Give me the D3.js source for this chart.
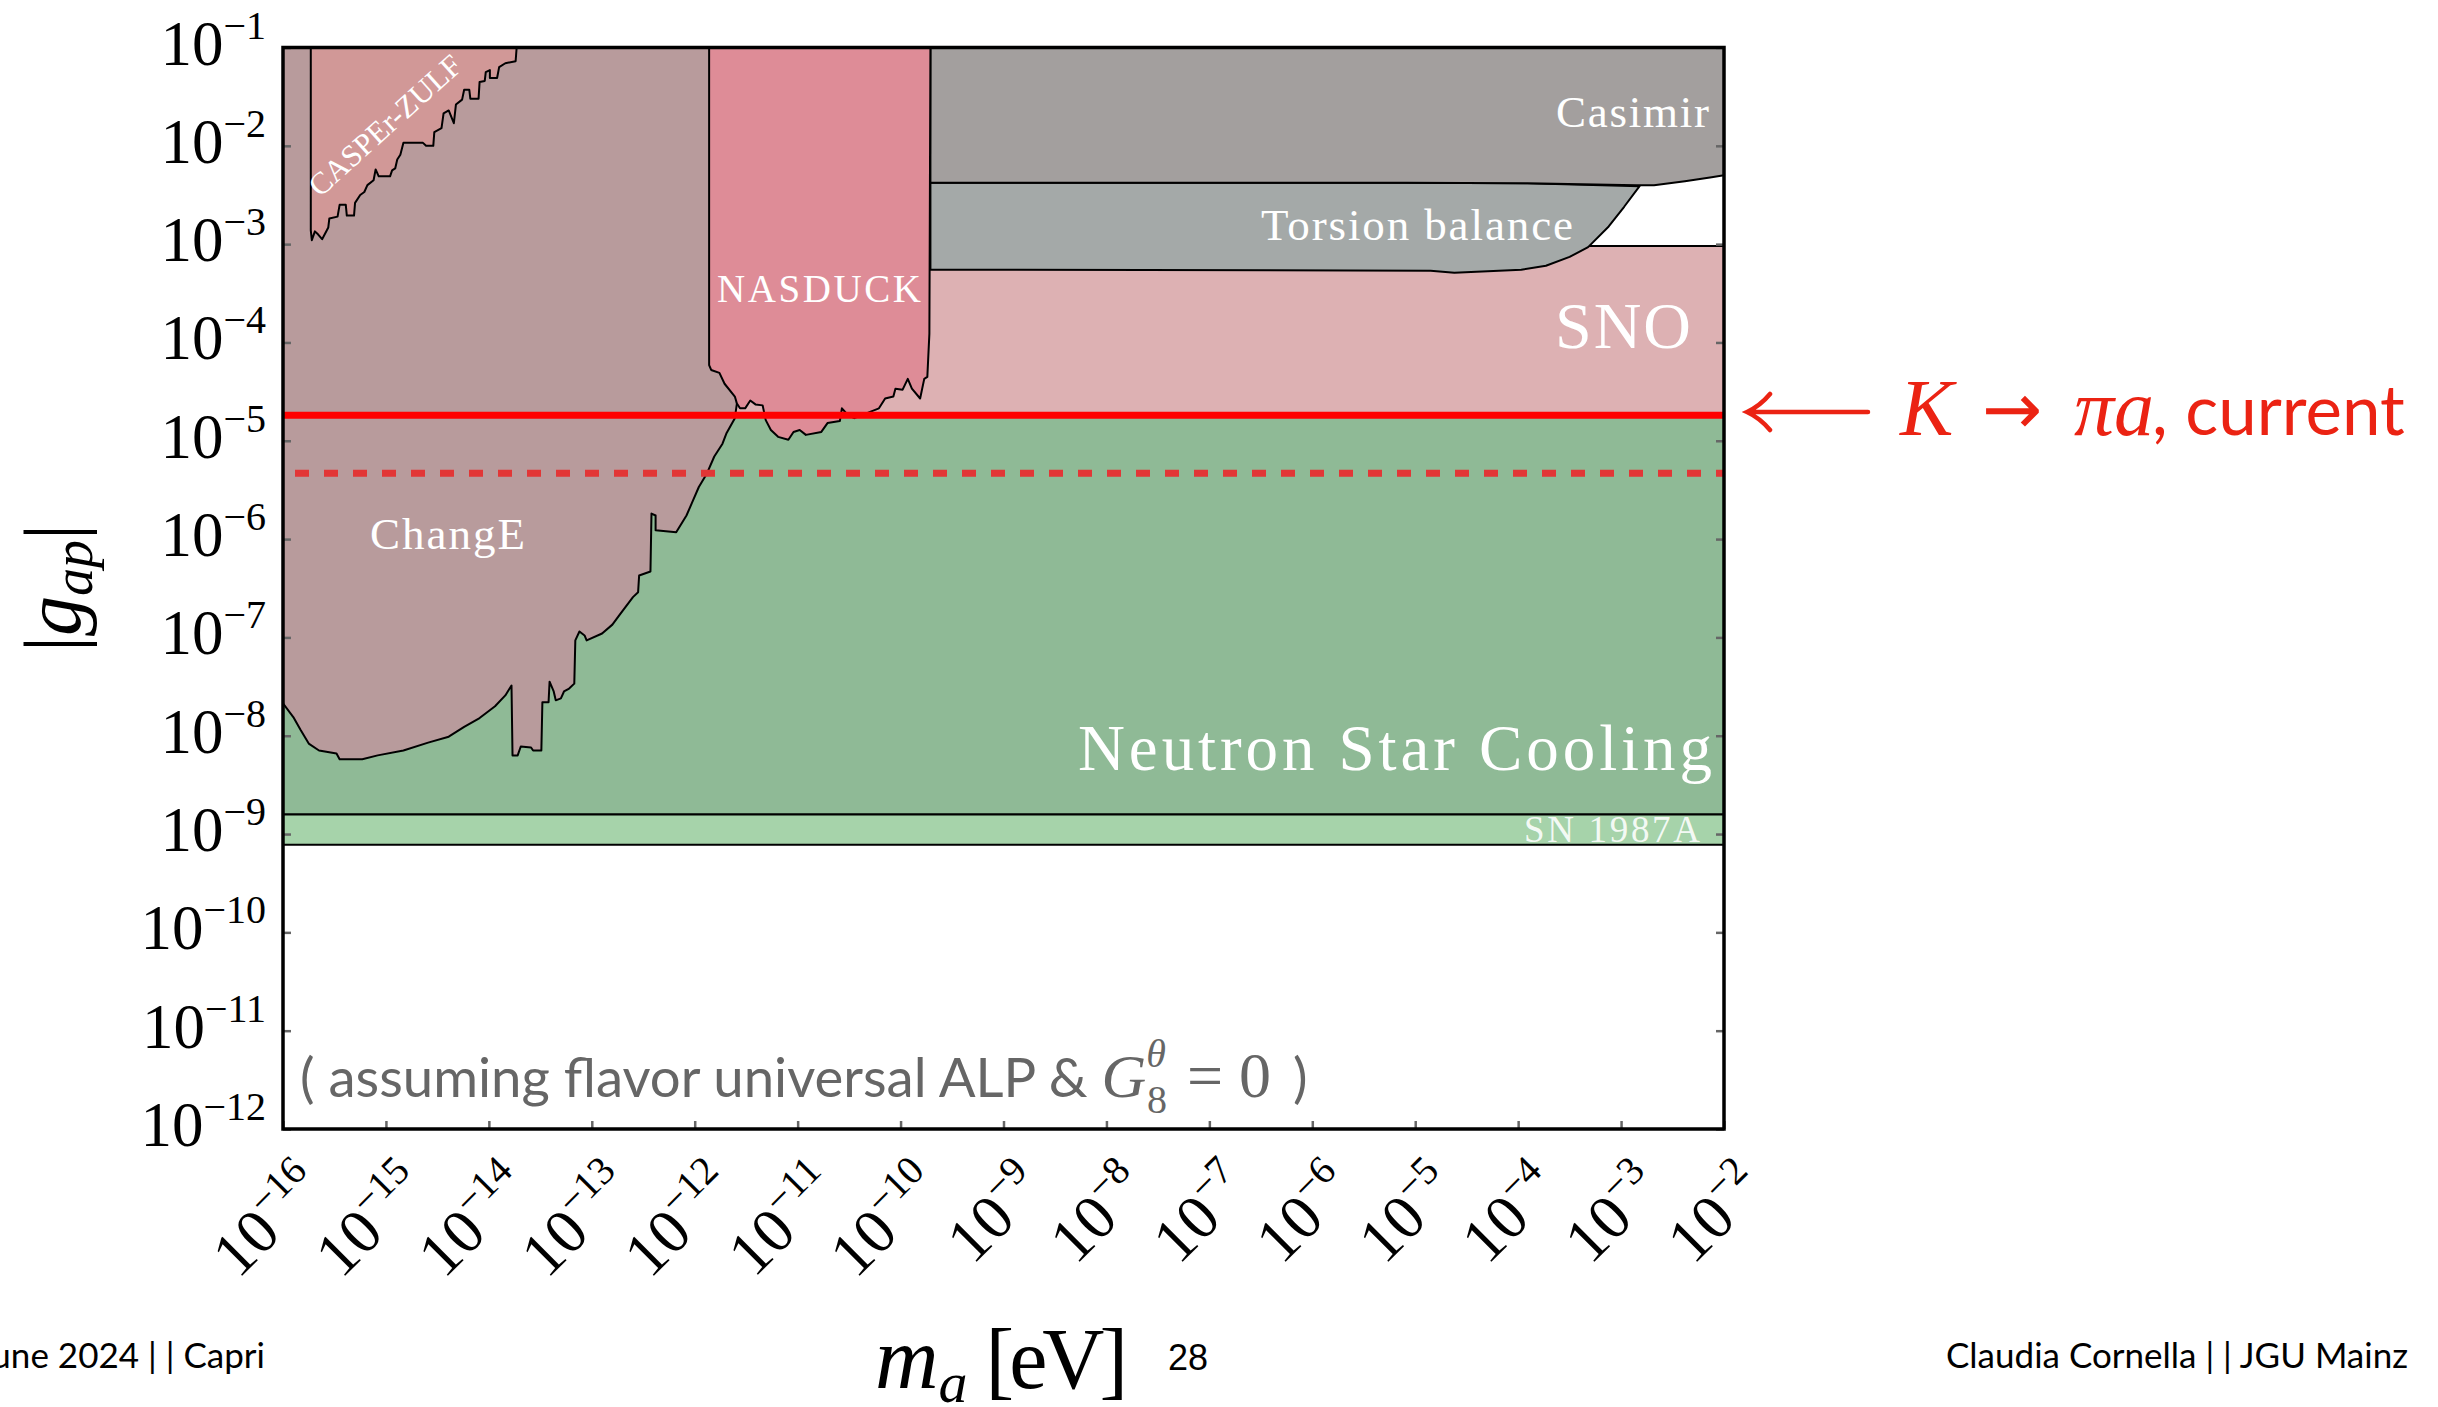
<!DOCTYPE html>
<html>
<head>
<meta charset="utf-8">
<script src="https://cdn.jsdelivr.net/npm/d3@7"></script>
<style>
  body { margin: 0; background: #fff; }
  svg { display: block; }
</style>
</head>
<body>
<script>
// tick exponents
const massExp = d3.range(-16, -1);   // m_a : 10^-16 .. 10^-2 eV
const coupExp = d3.range(-12, 0);    // |g_ap| : 10^-12 .. 10^-1

// excluded regions, points are [log10 m_a, log10 |g_ap|]
const neutronStar = [[-16, -4.74], [-2, -4.74], [-2, -8.80], [-16, -8.80]];
const sn1987a = [[-16, -8.80], [-2, -8.80], [-2, -9.11], [-16, -9.11]];
const sno = [[-11.86, -3.02], [-2, -3.02], [-2, -4.74], [-11.86, -4.74]];
const torsion = [[-9.71, -2.375], [-5.09, -2.375], [-3.91, -2.38], [-2.82, -2.41],
  [-2.97, -2.62], [-3.12, -2.82], [-3.32, -3.03], [-3.50, -3.13], [-3.73, -3.22],
  [-3.97, -3.26], [-4.62, -3.29], [-4.85, -3.27], [-9.71, -3.26]];
const casimir = [[-9.71, -1], [-2, -1], [-2, -2.30], [-2.12, -2.32], [-2.38, -2.36],
  [-2.68, -2.40], [-2.85, -2.40], [-3.91, -2.38], [-5.09, -2.375], [-9.71, -2.375]];
const changE = [[-16, -1], [-16, -7.67], [-15.90, -7.81], [-15.83, -7.94], [-15.75, -8.08],
  [-15.65, -8.15], [-15.48, -8.18], [-15.45, -8.24], [-15.23, -8.24], [-15.08, -8.20],
  [-14.83, -8.15], [-14.59, -8.07], [-14.39, -8.01], [-14.24, -7.91], [-14.09, -7.82],
  [-13.94, -7.70], [-13.84, -7.59], [-13.78, -7.49], [-13.77, -8.20], [-13.72, -8.20],
  [-13.69, -8.11], [-13.59, -8.12], [-13.57, -8.15], [-13.49, -8.15], [-13.48, -7.66],
  [-13.42, -7.66], [-13.41, -7.45], [-13.37, -7.55], [-13.35, -7.64], [-13.30, -7.62],
  [-13.27, -7.55], [-13.22, -7.52], [-13.17, -7.47], [-13.16, -7.03], [-13.12, -6.94],
  [-13.07, -6.98], [-13.05, -7.03], [-12.90, -6.96], [-12.80, -6.87], [-12.73, -6.77],
  [-12.60, -6.59], [-12.55, -6.54], [-12.54, -6.37], [-12.43, -6.33], [-12.42, -5.74],
  [-12.38, -5.76], [-12.38, -5.91], [-12.18, -5.93], [-12.08, -5.76], [-12.03, -5.64],
  [-11.96, -5.47], [-11.88, -5.33], [-11.81, -5.16], [-11.73, -5.03], [-11.69, -4.92],
  [-11.61, -4.77], [-11.59, -4.62], [-11.70, -1]];
const nasduck = [[-11.86, -1], [-11.86, -4.23], [-11.84, -4.28], [-11.76, -4.31],
  [-11.71, -4.42], [-11.61, -4.55], [-11.59, -4.62], [-11.56, -4.67], [-11.51, -4.67],
  [-11.46, -4.59], [-11.41, -4.63], [-11.34, -4.64], [-11.31, -4.79], [-11.26, -4.89],
  [-11.19, -4.96], [-11.09, -4.99], [-11.04, -4.91], [-10.98, -4.89], [-10.92, -4.94],
  [-10.77, -4.91], [-10.71, -4.82], [-10.59, -4.80], [-10.57, -4.67], [-10.51, -4.74],
  [-10.45, -4.77], [-10.21, -4.67], [-10.15, -4.57], [-10.07, -4.55], [-10.05, -4.47],
  [-9.98, -4.48], [-9.93, -4.37], [-9.89, -4.47], [-9.81, -4.57], [-9.77, -4.37],
  [-9.74, -4.35], [-9.72, -3.91], [-9.71, -1]];
const casper = [[-15.73, -1], [-15.73, -2.86], [-15.72, -2.96], [-15.69, -2.87],
  [-15.66, -2.90], [-15.62, -2.95], [-15.56, -2.83], [-15.55, -2.74], [-15.47, -2.72],
  [-15.45, -2.60], [-15.39, -2.60], [-15.38, -2.71], [-15.31, -2.71], [-15.30, -2.58],
  [-15.25, -2.50], [-15.21, -2.47], [-15.18, -2.40], [-15.12, -2.35], [-15.10, -2.24],
  [-15.07, -2.31], [-14.96, -2.31], [-14.94, -2.25], [-14.91, -2.23], [-14.89, -2.14],
  [-14.86, -2.09], [-14.83, -1.97], [-14.64, -1.97], [-14.61, -2.00], [-14.54, -2.00],
  [-14.53, -1.86], [-14.46, -1.82], [-14.44, -1.67], [-14.39, -1.64], [-14.34, -1.77],
  [-14.32, -1.58], [-14.26, -1.53], [-14.24, -1.43], [-14.19, -1.43], [-14.18, -1.52],
  [-14.10, -1.52], [-14.09, -1.35], [-14.04, -1.34], [-14.03, -1.25], [-13.99, -1.23],
  [-13.99, -1.31], [-13.92, -1.31], [-13.90, -1.20], [-13.84, -1.16], [-13.74, -1.14],
  [-13.73, -1]];

// K -> pi a bounds
const kpiCurrent = -4.74;
const kpiFuture = -5.33;

const regions = [
  { pts: neutronStar, fill: "#8fba96" },
  { pts: sn1987a, fill: "#a6d3aa" },
  { pts: sno, fill: "#ddb1b3" },
  { pts: torsion, fill: "#a4a9a8" },
  { pts: casimir, fill: "#a39f9e" },
  { pts: changE, fill: "#b89b9c" },
  { pts: nasduck, fill: "#de8c97" },
  { pts: casper, fill: "#d19897" }
];

const width = 2438, height = 1407;
const pLeft = 283, pRight = 1724, pTop = 47.5, pBottom = 1129;

const svg = d3.select("body").append("svg")
    .attr("width", width)
    .attr("height", height);

const x = d3.scaleLog().domain([1e-16, 1e-2]).range([pLeft, pRight]);
const y = d3.scaleLog().domain([1e-12, 1e-1]).range([pBottom, pTop]);
const line = d3.line().x(d => x(10 ** d[0])).y(d => y(10 ** d[1]));

svg.append("clipPath").attr("id", "plot")
  .append("rect")
    .attr("x", pLeft).attr("y", pTop)
    .attr("width", pRight - pLeft).attr("height", pBottom - pTop);

const area = svg.append("g").attr("clip-path", "url(#plot)");

area.selectAll("path.region")
    .data(regions)
    .enter()
    .append("path")
    .attr("class", "region")
    .attr("d", d => line(d.pts) + "Z")
    .attr("fill", d => d.fill)
    .attr("stroke", "black")
    .attr("stroke-width", 2)
    .attr("stroke-linejoin", "round");

// K -> pi a lines
area.append("line")
    .attr("x1", x(1e-16)).attr("x2", x(1e-2))
    .attr("y1", y(10 ** kpiCurrent)).attr("y2", y(10 ** kpiCurrent))
    .attr("stroke", "#ff0000")
    .attr("stroke-width", 7);
area.append("line")
    .attr("x1", x(1e-16) + 12).attr("x2", x(1e-2))
    .attr("y1", y(10 ** kpiFuture)).attr("y2", y(10 ** kpiFuture))
    .attr("stroke", "#e23636")
    .attr("stroke-width", 7)
    .attr("stroke-dasharray", "14,15");

// region labels
const serif = "'Liberation Serif', 'DejaVu Serif', serif";
const labels = [
  { t: "Casimir", x: 1556, y: 127, s: 45, w: 153 },
  { t: "Torsion balance", x: 1261, y: 240, s: 45, w: 312 },
  { t: "SNO", x: 1555, y: 348, s: 66, w: 136 },
  { t: "NASDUCK", x: 717, y: 302, s: 39, w: 204 },
  { t: "ChangE", x: 370, y: 549, s: 45, w: 155 },
  { t: "Neutron Star Cooling", x: 1078, y: 770, s: 65, w: 634 },
  { t: "SN 1987A", x: 1524, y: 842, s: 37, w: 176, o: 0.9 }
];
svg.append("g").selectAll("text")
    .data(labels)
    .enter()
    .append("text")
    .attr("x", d => d.x)
    .attr("y", d => d.y)
    .attr("font-family", serif)
    .attr("font-size", d => d.s)
    .attr("textLength", d => d.w)
    .attr("lengthAdjust", "spacing")
    .attr("fill", "white")
    .attr("fill-opacity", d => d.o || 1)
    .text(d => d.t);

svg.append("text")
    .attr("transform", "translate(392,133) rotate(-42)")
    .attr("text-anchor", "middle")
    .attr("font-family", serif)
    .attr("font-size", 31)
    .attr("textLength", 194)
    .attr("lengthAdjust", "spacing")
    .attr("fill", "white")
    .text("CASPEr-ZULF");

// axes: inward ticks only
const tickStyle = g => {
  g.select(".domain").remove();
  g.selectAll(".tick line").attr("stroke", "#666").attr("stroke-width", 2.5);
  g.selectAll(".tick text").remove();
};
svg.append("g")
    .attr("transform", `translate(0,${pBottom})`)
    .call(d3.axisBottom(x).tickValues(massExp.map(e => 10 ** e)).tickSizeInner(-8).tickSizeOuter(0))
    .call(tickStyle);
svg.append("g")
    .attr("transform", `translate(${pLeft},0)`)
    .call(d3.axisLeft(y).tickValues(coupExp.map(e => 10 ** e)).tickSizeInner(-8).tickSizeOuter(0))
    .call(tickStyle);
svg.append("g")
    .attr("transform", `translate(${pRight},0)`)
    .call(d3.axisRight(y).tickValues(coupExp.map(e => 10 ** e)).tickSizeInner(-8).tickSizeOuter(0))
    .call(tickStyle);

// frame
svg.append("rect")
    .attr("x", pLeft).attr("y", pTop)
    .attr("width", pRight - pLeft).attr("height", pBottom - pTop)
    .attr("fill", "none")
    .attr("stroke", "black")
    .attr("stroke-width", 3.5);

// tick labels 10^n
const power = (sel, e) => {
  sel.append("tspan").text("10");
  sel.append("tspan")
      .attr("font-size", 40)
      .attr("dy", -26)
      .text("\u2212" + Math.abs(e));
};
svg.append("g").selectAll("text")
    .data(coupExp)
    .enter()
    .append("text")
    .attr("x", 266)
    .attr("y", d => y(10 ** d) + 17)
    .attr("text-anchor", "end")
    .attr("font-family", serif)
    .attr("font-size", 63)
    .each(function (d) { power(d3.select(this), d); });

svg.append("g").selectAll("text")
    .data(massExp)
    .enter()
    .append("text")
    .attr("transform", d => `translate(${x(10 ** d) + 44},${pBottom + 62}) rotate(-45)`)
    .attr("text-anchor", "end")
    .attr("font-family", serif)
    .attr("font-size", 63)
    .each(function (d) { power(d3.select(this), d); });

// axis titles
const ylab = svg.append("text")
    .attr("transform", "translate(80,588) rotate(-90)")
    .attr("text-anchor", "middle")
    .attr("font-family", serif)
    .attr("font-size", 80);
ylab.append("tspan").text("|");
ylab.append("tspan").attr("font-style", "italic").text("g");
ylab.append("tspan").attr("font-style", "italic").attr("font-size", 56).attr("dy", 12).text("ap");
ylab.append("tspan").attr("dy", -12).text("|");

const xlab = svg.append("text")
    .attr("x", 875)
    .attr("y", 1388)
    .attr("font-family", serif)
    .attr("font-size", 88);
xlab.append("tspan").attr("font-style", "italic").text("m");
xlab.append("tspan").attr("font-style", "italic").attr("font-size", 58).attr("dy", 14).text("a");
xlab.append("tspan").attr("dy", -14).attr("dx", 18).attr("font-size", 86)
    .attr("letter-spacing", -5).text("[eV]");

// assumption note
const note = svg.append("text")
    .attr("x", 300)
    .attr("y", 1097)
    .attr("fill", "#666")
    .attr("font-family", "Lato, sans-serif")
    .attr("font-size", 54.5);
note.append("tspan").text("( assuming flavor universal ALP & ");
note.append("tspan").attr("font-family", serif).attr("font-style", "italic").attr("font-size", 62).text("G");
note.append("tspan").attr("font-family", serif).attr("font-style", "italic").attr("font-size", 40).attr("dy", -30).text("\u03b8");
note.append("tspan").attr("font-family", serif).attr("font-size", 40).attr("dx", -19).attr("dy", 46).text("8");
note.append("tspan").attr("font-family", serif).attr("font-size", 64).attr("dy", -16).attr("dx", 20).text("= 0");
note.append("tspan").attr("dx", 8).text(" )");

// K -> pi a annotation
const red = "#eb2313";
svg.append("path")
    .attr("d", "M1868,412 H1750 M1770,394 Q1760,406 1747,412 Q1760,418 1770,430")
    .attr("fill", "none")
    .attr("stroke", red)
    .attr("stroke-width", 4.5)
    .attr("stroke-linecap", "round");
svg.append("text")
    .attr("x", 1900).attr("y", 435)
    .attr("font-family", serif).attr("font-style", "italic").attr("font-size", 80)
    .attr("fill", red).text("K");
svg.append("text")
    .attr("x", 1982).attr("y", 434)
    .attr("font-family", "'DejaVu Sans', sans-serif").attr("font-size", 72)
    .attr("fill", red).text("\u2192");
svg.append("text")
    .attr("x", 2074).attr("y", 435)
    .attr("font-family", serif).attr("font-style", "italic").attr("font-size", 80)
    .attr("fill", red).text("\u03c0a");
svg.append("text")
    .attr("x", 2152).attr("y", 435)
    .attr("font-family", "Lato, sans-serif").attr("font-size", 69)
    .attr("fill", red).text(", current");

// slide footer
svg.append("text")
    .attr("x", 265).attr("y", 1368)
    .attr("text-anchor", "end")
    .attr("font-family", "Lato, sans-serif").attr("font-size", 35)
    .text("June 2024 | | Capri");
svg.append("text")
    .attr("x", 2408).attr("y", 1368)
    .attr("text-anchor", "end")
    .attr("font-family", "Lato, sans-serif").attr("font-size", 35)
    .text("Claudia Cornella | | JGU Mainz");
svg.append("text")
    .attr("x", 1168).attr("y", 1370)
    .attr("font-family", "'Liberation Sans', Arial, sans-serif").attr("font-size", 36)
    .text("28");
</script>
</body>
</html>
